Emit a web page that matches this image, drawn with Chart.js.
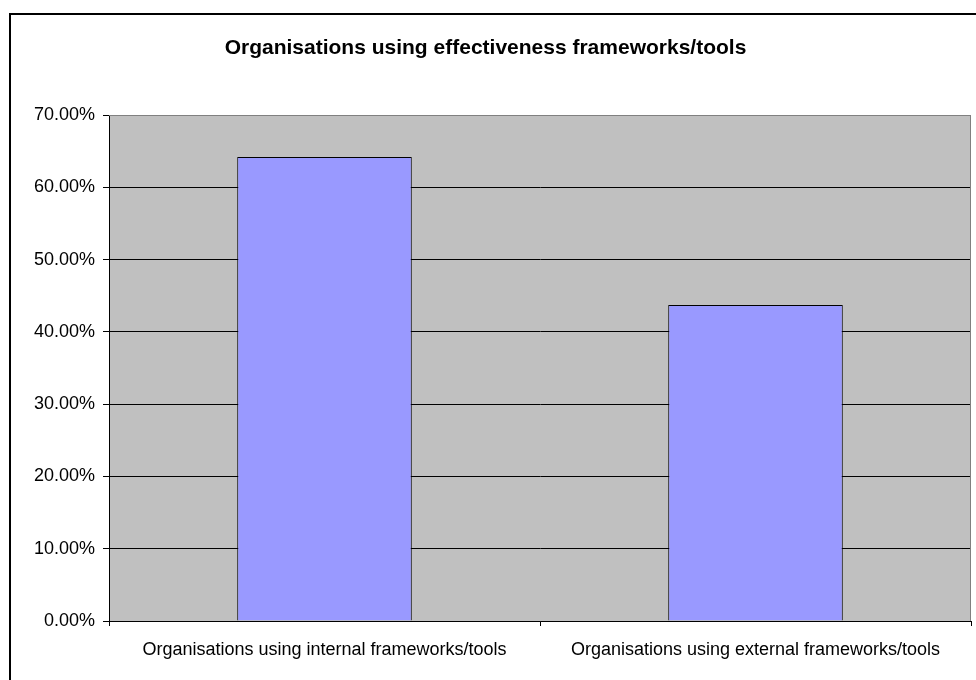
<!DOCTYPE html>
<html>
<head>
<meta charset="utf-8">
<script src="https://cdn.jsdelivr.net/npm/chart.js@4.4.1/dist/chart.umd.min.js"></script>
<style>
    body { margin: 0; background: #fff; overflow: hidden; }
    #wrap { position: relative; width: 976px; height: 680px; }
    #frame { position: absolute; left: 9px; top: 13px; width: 1000px; height: 700px; border: 2px solid #000; }
    #chart { position: absolute; left: 0; top: 0; }
</style>
</head>
<body>
<div id="wrap">
    <div id="frame"></div>
    <canvas id="chart" width="976" height="680"></canvas>
</div>
<script>
// chart data
const chartTitle = 'Organisations using effectiveness frameworks/tools';
const categories = [
    'Organisations using internal frameworks/tools',
    'Organisations using external frameworks/tools'
];
const percentUsing = [64.2, 43.7];
const yTicks = [0, 10, 20, 30, 40, 50, 60, 70];

const FONT = "'Liberation Sans', Arial, sans-serif";

// grey plot background + grey top/right border like the original
const plotArea = {
    id: 'plotArea',
    beforeDraw(chart) {
        const { ctx, chartArea: a } = chart;
        ctx.save();
        ctx.fillStyle = '#c0c0c0';
        ctx.fillRect(a.left, a.top, a.right - a.left, a.bottom - a.top);
        ctx.restore();
    },
    afterDraw(chart) {
        const { ctx, chartArea: a } = chart;
        ctx.save();
        ctx.strokeStyle = '#808080';
        ctx.lineWidth = 1;
        ctx.beginPath();
        ctx.moveTo(a.left, a.top + 0.5);
        ctx.lineTo(a.right - 0.5, a.top + 0.5);
        ctx.lineTo(a.right - 0.5, a.bottom);
        ctx.stroke();
        ctx.restore();
    }
};

const ctx = document.getElementById('chart').getContext('2d');
const chart = new Chart(ctx, {
    type: 'bar',
    data: {
        labels: categories,
        datasets: [{
            data: percentUsing,
            backgroundColor: '#9999ff',
            borderColor: '#000000',
            borderWidth: 1,
            categoryPercentage: 1,
            barPercentage: 0.405
        }]
    },
    options: {
        responsive: false,
        devicePixelRatio: 1,
        animation: false,
        layout: { padding: { left: 0, right: 5, top: 0, bottom: 0 } },
        plugins: {
            legend: { display: false },
            tooltip: { enabled: false },
            title: {
                display: true,
                text: chartTitle,
                color: '#000',
                font: { family: FONT, size: 21, weight: 'bold', lineHeight: 1.2 },
                padding: { top: 35.5, bottom: 54.3 }
            }
        },
        scales: {
            x: {
                grid: {
                    offset: true,
                    drawOnChartArea: false,
                    drawTicks: true,
                    tickLength: 5,
                    tickColor: '#000'
                },
                border: { color: '#000', width: 1 },
                ticks: {
                    color: '#000',
                    font: { family: FONT, size: 18 },
                    padding: 13,
                    maxRotation: 0,
                    autoSkip: false
                },
                afterFit(scale) { scale.height = 59; }
            },
            y: {
                min: 0,
                max: 70,
                afterBuildTicks(scale) {
                    scale.ticks = yTicks.map(v => ({ value: v }));
                },
                grid: {
                    color: c => (c.tick && c.tick.value === 70) ? '#808080' : '#000',
                    lineWidth: 1,
                    tickLength: 6,
                    tickColor: '#000'
                },
                border: { color: '#000', width: 1 },
                ticks: {
                    color: '#000',
                    font: { family: FONT, size: 18 },
                    padding: 8,
                    callback: v => v.toFixed(2) + '%'
                },
                afterFit(scale) { scale.width = 109; }
            }
        }
    },
    plugins: [plotArea]
});
</script>
</body>
</html>
